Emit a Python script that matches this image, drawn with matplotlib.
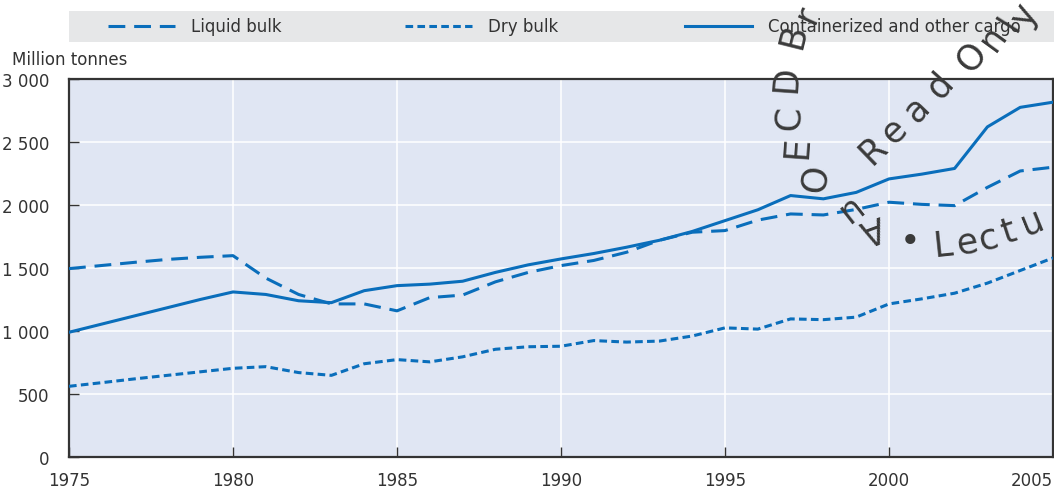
import matplotlib
matplotlib.use("Agg")
import matplotlib.pyplot as plt
from matplotlib.lines import Line2D
from matplotlib.patches import Rectangle
from matplotlib.ticker import FuncFormatter

plt.rcParams['font.family'] = ['Liberation Sans Narrow', 'DejaVu Sans']

# data (million tonnes)
years = list(range(1975, 2006))
liquid_bulk = [1495, 1520, 1545, 1568, 1585, 1598, 1420, 1290, 1215, 1215,
               1160, 1265, 1285, 1390, 1465, 1519, 1560, 1625, 1720, 1784,
               1797, 1880, 1929, 1921, 1965, 2022, 2005, 1995, 2140, 2270,
               2300]
dry_bulk = [561, 590, 620, 648, 676, 704, 717, 670, 648, 740,
            773, 755, 795, 855, 875, 879, 924, 912, 920, 960,
            1025, 1015, 1096, 1090, 1110, 1215, 1255, 1300, 1380, 1480,
            1580]
containerized = [990, 1055, 1120, 1185, 1250, 1310, 1290, 1240, 1225, 1320,
                 1360, 1372, 1395, 1465, 1525, 1572, 1615, 1665, 1720, 1790,
                 1876, 1962, 2075, 2049, 2100, 2207, 2245, 2290, 2620, 2775,
                 2816]

labels = ['Liquid bulk', 'Dry bulk', 'Containerized and other cargo']
styles = [(0, (5.5, 2.9)), (0, (2.5, 1.4)), '-']

blue = '#0A6EBB'
txt = '#333333'
W, H = 1054, 489

fig = plt.figure(figsize=(W / 100, H / 100), dpi=100)
ax = fig.add_axes([69 / W, (H - 458) / H, 984 / W, 378 / H])
ax.set_facecolor('#E0E6F3')

for vals, ls in zip([liquid_bulk, dry_bulk, containerized], styles):
    ax.plot(years, vals, color=blue, lw=2.2, linestyle=ls, zorder=3,
            solid_joinstyle='round', dash_joinstyle='round')

ax.set_xlim(1975, 2005)
ax.set_ylim(0, 3000)
ax.set_xticks(range(1975, 2006, 5))
ax.set_yticks(range(0, 3001, 500))
ax.yaxis.set_major_formatter(FuncFormatter(lambda v, p: f'{int(v):,}'.replace(',', ' ')))
ax.grid(True, color='white', lw=1.1)
ax.set_axisbelow(True)
ax.tick_params(direction='in', length=7, width=1, color='#333333',
               labelsize=12, labelcolor=txt)
ax.tick_params(axis='y', pad=14)
ax.tick_params(axis='x', pad=10)
ax.get_xticklabels()[-1].set_horizontalalignment('right')
for s in ax.spines.values():
    s.set_color('#333333')
    s.set_linewidth(1.6)

fig.text(12 / W, 1 - 60 / H, 'Million tonnes', fontsize=12, color=txt,
         ha='left', va='center')

# legend band
fig.patches.append(Rectangle((69 / W, 1 - 43 / H), (W - 69) / W, 31 / H,
                             transform=fig.transFigure, facecolor='#E6E7E8',
                             edgecolor='none', zorder=0))
handle_x = [108, 405, 685]
for x0, ls, lab in zip(handle_x, styles, labels):
    fig.add_artist(Line2D([x0 / W, (x0 + 67) / W], [1 - 27 / H, 1 - 27 / H],
                          transform=fig.transFigure, color=blue, lw=2.2,
                          linestyle=ls))
    fig.text((x0 + 83) / W, 1 - 27 / H, lab, fontsize=12, color=txt,
             ha='left', va='center')

# watermark stamp
wm = [
    ('O', 816, 178, 82), ('E', 797, 147, 86), ('C', 789, 117, 88),
    ('D', 787, 79, 86), ('B', 794, 36, 76), ('r', 808, 14, 66),
    ('R', 873, 150, 44), ('e', 894, 131, 44), ('a', 917, 109, 46),
    ('d', 940, 86, 48), ('O', 972, 57, 50), ('n', 993, 38, 54),
    ('l', 1010, 24, 58), ('y', 1025, 15, 62),
    ('u', 847, 212, 218), ('A', 872, 228, 200),
    ('\u2022', 910, 242, 0), ('L', 943, 246, 6), ('e', 967, 243, 10),
    ('c', 988, 238, 14), ('t', 1009, 232, 18), ('u', 1032, 222, 22),
]
for ch, x, y, r in wm:
    fig.text(x / W, 1 - y / H, ch, fontsize=25, color='#3A3A3A',
             family='DejaVu Sans', rotation=r, ha='center', va='center',
             rotation_mode='anchor', zorder=10)

fig.savefig('out.png', dpi=100)
